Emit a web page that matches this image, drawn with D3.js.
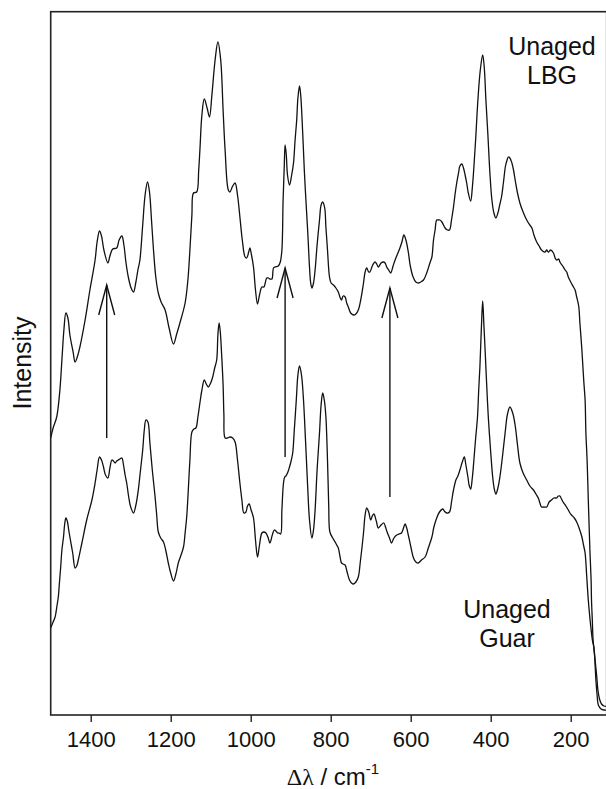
<!DOCTYPE html>
<html>
<head>
<meta charset="utf-8">
<script src="https://cdn.jsdelivr.net/npm/d3@7"></script>
<style>
  body { margin: 0; background: #fff; }
  text { font-family: "Liberation Sans", Arial, Helvetica, sans-serif; fill: #111; }
</style>
</head>
<body>
<svg id="chart" width="606" height="789"></svg>
<script>
// Raman shift axis ticks (cm-1)
const xTicks = [1400, 1200, 1000, 800, 600, 400, 200];

// Unaged locust bean gum spectrum: [Raman shift cm-1, intensity a.u.]
const lbgSpectrum = [
  [1500,27.7],[1494,28.7],[1485,29.8],[1477,32.5],[1472,35.5],[1467,38.5],[1462,40.2],[1457,39.7],
  [1452,38.0],[1444,36.3],[1439,35.3],[1432,36.0],[1427,36.8],[1414,39.5],[1402,42.5],[1389,45.5],
  [1384,47.3],[1378,48.4],[1373,47.9],[1367,46.5],[1357,45.2],[1352,45.9],[1345,46.6],[1335,46.7],
  [1329,47.5],[1322,47.9],[1317,47.0],[1312,45.3],[1306,43.8],[1299,42.7],[1293,42.3],[1287,43.3],
  [1282,44.5],[1277,45.5],[1270,49.0],[1264,52.0],[1258,53.3],[1253,52.3],[1248,49.5],[1243,46.5],
  [1237,43.7],[1231,42.2],[1224,41.3],[1214,40.5],[1204,38.7],[1193,37.1],[1185,38.1],[1177,39.2],
  [1164,41.2],[1157,43.5],[1152,46.5],[1147,50.0],[1143,52.2],[1135,52.3],[1130,54.5],[1127,56.5],
  [1122,60.0],[1116,61.6],[1109,60.7],[1103,59.8],[1097,62.0],[1089,65.5],[1082,67.3],[1075,65.5],
  [1069,60.5],[1064,56.5],[1056,52.5],[1052,52.3],[1045,52.9],[1039,53.2],[1033,52.0],[1027,49.8],
  [1021,47.5],[1014,45.8],[1010,45.7],[1005,46.3],[1002,46.7],[998,46.0],[993,44.8],[988,42.5],
  [983,41.1],[978,42.0],[972,42.8],[967,42.8],[960,43.7],[956,43.7],[952,43.6],[947,43.6],
  [943,44.7],[939,44.8],[931,44.9],[926,45.3],[922,46.5],[919,51.5],[916,55.0],[914,57.0],
  [911,56.0],[908,54.0],[903,53.0],[898,53.9],[893,55.2],[889,57.5],[885,59.5],[882,61.7],
  [878,62.9],[875,62.0],[870,58.2],[866,54.5],[862,51.5],[857,48.0],[853,44.8],[850,43.2],
  [847,42.7],[843,43.2],[839,44.5],[834,47.0],[828,49.5],[824,51.0],[820,51.3],[815,50.7],
  [812,48.8],[808,46.5],[803,43.8],[799,43.2],[793,43.0],[787,42.7],[781,42.3],[777,41.8],
  [773,41.5],[769,41.9],[764,41.8],[760,41.2],[756,40.8],[750,40.2],[743,40.0],[737,40.1],
  [731,40.5],[725,41.5],[718,43.2],[714,44.3],[710,44.7],[705,44.3],[702,44.3],[695,45.0],
  [689,45.3],[685,45.1],[681,44.8],[674,45.2],[668,45.3],[664,45.2],[660,44.8],[655,44.5],
  [650,44.2],[644,44.9],[639,45.5],[633,46.1],[627,46.7],[622,47.3],[617,48.0],[612,47.5],
  [606,46.3],[601,44.9],[594,43.8],[587,43.3],[581,43.2],[575,43.3],[568,43.5],[560,44.2],
  [552,45.2],[547,45.8],[543,47.5],[539,48.5],[535,49.5],[531,49.5],[527,49.5],[522,49.3],
  [514,48.7],[508,48.5],[503,48.5],[498,49.5],[493,50.8],[489,52.1],[485,53.2],[480,54.3],
  [477,54.9],[472,55.1],[468,54.7],[464,54.0],[460,53.2],[456,52.2],[450,51.4],[446,52.7],
  [442,54.8],[437,58.0],[432,61.5],[426,64.5],[420,66.0],[416,64.7],[412,61.5],[407,58.0],
  [402,54.2],[397,51.5],[392,50.2],[387,49.7],[382,50.2],[377,51.1],[373,51.8],[368,53.3],
  [363,54.9],[359,55.5],[356,55.8],[352,55.7],[347,55.2],[343,54.5],[338,53.3],[333,52.2],
  [327,51.2],[319,50.3],[310,49.5],[304,49.1],[297,48.7],[292,48.0],[285,47.3],[279,46.9],
  [273,46.5],[264,46.3],[260,46.5],[256,46.3],[250,46.5],[243,46.2],[239,45.7],[235,45.5],
  [230,45.6],[227,45.3],[220,44.9],[214,44.5],[210,44.3],[206,43.8],[200,43.3],[193,42.8],
  [189,42.5],[185,41.8],[180,40.9],[177,39.2],[172,36.5],[169,34.5],[167,33.2],[164,31.5],
  [162,28.2],[159,25.5],[156,21.5],[154,19.0],[152,16.5],[149,13.5],[148,11.5],[146,9.5],
  [144,7.5],[139,5.5],[135,3.9],[132,2.5],[128,1.6],[123,1.1],[117,0.9],[110,0.85]
];

// Unaged guar gum spectrum: [Raman shift cm-1, intensity a.u.]
const guarSpectrum = [
  [1500,8.7],[1494,9.3],[1489,9.8],[1484,11.0],[1481,11.8],[1478,13.3],[1475,14.8],[1472,16.5],
  [1468,17.8],[1465,19.1],[1462,19.7],[1458,19.3],[1455,18.5],[1452,17.8],[1445,16.2],[1439,14.7],
  [1435,14.9],[1431,15.5],[1422,17.2],[1410,19.5],[1397,21.5],[1389,23.2],[1384,24.5],[1378,25.8],
  [1373,25.5],[1368,24.8],[1363,24.0],[1357,23.7],[1352,24.7],[1347,25.5],[1343,25.4],[1339,25.2],
  [1335,25.4],[1331,25.5],[1327,25.6],[1322,25.7],[1318,25.0],[1314,24.0],[1310,23.2],[1305,21.8],
  [1300,20.8],[1293,20.2],[1287,21.0],[1281,22.5],[1276,24.3],[1270,26.5],[1266,28.5],[1262,29.5],
  [1257,29.3],[1252,27.2],[1246,24.5],[1239,21.8],[1235,20.0],[1231,18.3],[1225,17.7],[1218,17.3],
  [1212,16.4],[1206,15.2],[1200,14.2],[1193,13.4],[1187,14.1],[1181,15.2],[1175,15.9],[1168,16.8],
  [1164,18.2],[1160,19.8],[1156,22.5],[1152,25.5],[1147,28.3],[1142,28.6],[1137,28.7],[1132,29.8],
  [1127,31.2],[1122,32.5],[1116,33.5],[1111,33.1],[1106,32.8],[1100,33.2],[1095,33.8],[1090,34.7],
  [1085,35.5],[1082,38.0],[1079,39.2],[1076,38.3],[1073,36.3],[1069,33.0],[1067,30.0],[1064,27.7],
  [1058,27.7],[1052,27.8],[1045,27.7],[1039,27.3],[1033,25.5],[1027,23.2],[1022,21.5],[1017,20.2],
  [1012,20.3],[1008,20.9],[1004,21.1],[999,20.5],[993,19.7],[988,17.5],[983,15.8],[978,17.0],
  [972,18.2],[967,18.3],[962,18.2],[957,17.8],[952,17.2],[946,18.0],[941,18.5],[937,18.4],
  [933,18.2],[929,18.2],[925,18.1],[922,20.5],[918,23.2],[915,23.8],[912,23.9],[907,24.3],
  [903,24.8],[899,25.4],[895,26.2],[891,28.5],[886,31.5],[882,34.0],[878,34.9],[873,34.0],
  [868,31.5],[863,27.5],[858,23.2],[853,19.5],[847,17.7],[843,18.5],[839,20.5],[834,24.5],
  [828,28.2],[824,31.0],[820,32.2],[816,31.5],[812,29.8],[808,25.5],[805,21.0],[802,18.3],
  [795,17.7],[789,17.3],[785,17.0],[781,16.7],[777,15.9],[773,15.2],[769,15.1],[764,15.0],
  [759,14.3],[753,13.5],[748,13.2],[743,13.1],[737,13.3],[731,13.8],[726,15.3],[718,18.2],
  [714,20.0],[710,20.7],[705,20.3],[700,19.5],[696,19.9],[692,20.1],[686,19.4],[681,18.7],
  [674,19.0],[667,19.2],[663,18.8],[659,18.3],[653,17.7],[648,17.2],[642,17.7],[635,18.0],
  [629,18.1],[623,18.2],[618,18.7],[614,19.1],[610,18.7],[606,18.0],[599,16.7],[593,15.7],
  [587,15.3],[581,15.2],[573,15.5],[564,15.8],[556,16.7],[547,17.8],[542,18.8],[535,19.7],
  [528,20.3],[520,20.6],[516,20.4],[510,20.2],[503,20.3],[498,21.3],[493,22.5],[487,23.5],
  [482,23.9],[477,24.5],[471,25.3],[466,25.8],[462,25.0],[457,23.8],[454,23.0],[450,22.6],
  [446,23.7],[442,25.5],[438,27.5],[433,29.8],[430,32.5],[427,34.8],[423,39.0],[420,41.4],
  [417,39.0],[414,36.5],[410,33.0],[406,29.8],[400,26.3],[395,23.8],[391,22.6],[387,22.1],
  [382,22.7],[377,23.8],[371,25.7],[364,28.2],[358,30.1],[352,30.8],[345,30.2],[339,29.0],
  [333,27.0],[327,25.2],[319,24.2],[310,23.5],[302,22.9],[293,22.5],[287,22.1],[281,21.7],
  [277,21.2],[273,20.8],[267,20.8],[260,20.8],[254,21.3],[248,21.5],[242,21.7],[235,21.7],
  [231,21.9],[227,21.9],[223,21.6],[219,21.3],[212,20.9],[206,20.5],[202,20.2],[198,20.0],
  [191,19.7],[185,19.3],[179,18.7],[172,17.8],[168,17.0],[164,16.2],[160,13.9],[156,11.5],
  [152,9.7],[148,8.2],[145,7.3],[142,6.8],[139,5.0],[137,3.5],[134,2.0],[131,1.0],
  [124,0.6],[117,0.5],[110,0.5]
];

// Arrows marking band changes between the two spectra
const arrowShift = [1360, 914, 652];
const arrowFrom = [27.7, 25.8, 21.8];
const arrowTo = [43.0, 44.7, 42.7];

// Spectrum names
const lbgLabel = ["Unaged", "LBG"];
const guarLabel = ["Unaged", "Guar"];

(function draw() {
  const svg = d3.select("#chart");
  const mLeft = 50.7, mRight = 606.7, mTop = 11.7, mBottom = 715;

  const x = d3.scaleLinear().domain([1500, 110]).range([mLeft, mRight]);
  const y = d3.scaleLinear().domain([0, 70.33]).range([mBottom, mTop]);

  const line = d3.line()
    .x(d => x(d[0]))
    .y(d => y(d[1]))
    .curve(d3.curveCatmullRom.alpha(0.5));

  const plot = svg.append("g");

  [lbgSpectrum, guarSpectrum].forEach(s => {
    plot.append("path")
      .datum(s)
      .attr("d", line)
      .attr("fill", "none")
      .attr("stroke", "#111")
      .attr("stroke-width", 1.3)
      .attr("stroke-linejoin", "round");
  });

  // Arrows: shaft plus open head
  arrowShift.forEach((s, i) => {
    const ax = x(s), y0 = y(arrowFrom[i]), y1 = y(arrowTo[i]);
    const g = plot.append("g").attr("stroke", "#111").attr("stroke-width", 1.4).attr("fill", "none");
    g.append("line").attr("x1", ax).attr("x2", ax).attr("y1", y0).attr("y2", y1);
    g.append("path").attr("d", `M${ax - 8},${y1 + 30}L${ax},${y1}L${ax + 8},${y1 + 30}`);
  });

  // Frame
  svg.append("rect")
    .attr("x", mLeft).attr("y", mTop)
    .attr("width", mRight - mLeft).attr("height", mBottom - mTop)
    .attr("fill", "none").attr("stroke", "#222").attr("stroke-width", 1.6);

  // Bottom axis
  const axis = svg.append("g")
    .attr("transform", `translate(0,${mBottom})`)
    .call(d3.axisBottom(x).tickValues(xTicks).tickSize(7).tickSizeOuter(0).tickPadding(9).tickFormat(d3.format("d")));
  axis.select(".domain").remove();
  axis.selectAll(".tick line").attr("stroke", "#222").attr("stroke-width", 1.4);
  axis.selectAll(".tick text").attr("font-size", 22).attr("fill", "#111")
    .style("font-family", '"Liberation Sans", Arial, sans-serif');

  // Axis titles
  const xt = svg.append("text")
    .attr("x", 333).attr("y", 785)
    .attr("text-anchor", "middle").attr("font-size", 24);
  xt.append("tspan").style("font-family", '"Liberation Serif", "DejaVu Serif", serif').text("\u0394\u03bb");
  xt.append("tspan").text(" / cm");
  xt.append("tspan").attr("font-size", 15).attr("dy", -11).text("-1");

  svg.append("text")
    .attr("transform", "translate(31,363) rotate(-90)")
    .attr("text-anchor", "middle").attr("font-size", 25)
    .text("Intensity");

  // Spectrum labels
  function drawLabel(lines, cx, baseY) {
    const t = svg.append("text").attr("text-anchor", "middle").attr("font-size", 25);
    lines.forEach((l, i) => {
      t.append("tspan").attr("x", cx).attr("y", baseY + i * 28.5).text(l);
    });
  }
  drawLabel(lbgLabel, 552, 55);
  drawLabel(guarLabel, 507, 618);
})();
</script>
</body>
</html>
